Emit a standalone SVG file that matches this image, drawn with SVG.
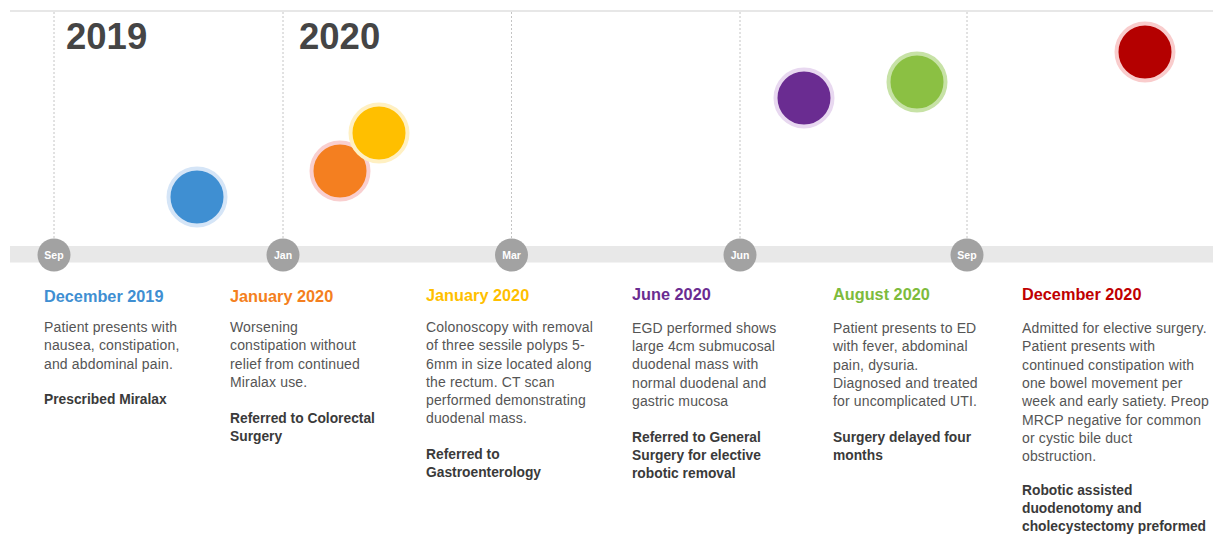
<svg xmlns="http://www.w3.org/2000/svg" width="1213" height="534" viewBox="0 0 1213 534">
  <style>
    .grid { stroke: #c4c4c4; stroke-width: 1; stroke-dasharray: 2 2; fill: none; }
    .year { font-family: "Liberation Sans", Arial, sans-serif; font-weight: bold; font-size: 36.5px; fill: #454545; }
    .tick { fill: #a2a2a2; }
    .tick-label { font-family: "Liberation Sans", Arial, sans-serif; font-weight: bold; font-size: 10.5px; fill: #ffffff; text-anchor: middle; }
    .head { font-family: "Liberation Sans", Arial, sans-serif; font-weight: bold; font-size: 16.3px; }
    .body { font-family: "Liberation Sans", Arial, sans-serif; font-size: 14px; letter-spacing: 0.15px; fill: #555555; }
    .note { font-family: "Liberation Sans", Arial, sans-serif; font-weight: bold; font-size: 13.8px; fill: #3a3a3a; }
    .dot { stroke-width: 4; }
  </style>

  <rect x="0" y="0" width="1213" height="534" fill="#ffffff"/>

  <!-- frame: top rule, month grid lines and the timeline band -->
  <g id="axis">
    <line x1="10" y1="11" x2="1213" y2="11" stroke="#cfcfcf" stroke-width="1.2"/>
    <line class="grid" x1="54" y1="12" x2="54" y2="246"/>
    <line class="grid" x1="283" y1="12" x2="283" y2="246"/>
    <line class="grid" x1="511.5" y1="12" x2="511.5" y2="246"/>
    <line class="grid" x1="740" y1="12" x2="740" y2="246"/>
    <line class="grid" x1="967" y1="12" x2="967" y2="246"/>
    <rect x="10" y="246" width="1203" height="16.5" fill="#e8e8e8"/>
  </g>

  <g id="years">
    <text class="year" x="66" y="49">2019</text>
    <text class="year" x="299" y="49">2020</text>
  </g>

  <!-- month markers on the band -->
  <g id="ticks">
    <g id="tick-sep-2019"><circle class="tick" cx="54" cy="255" r="16.5"/><text class="tick-label" x="54" y="258.5">Sep</text></g>
    <g id="tick-jan"><circle class="tick" cx="283" cy="255" r="16.5"/><text class="tick-label" x="283" y="258.5">Jan</text></g>
    <g id="tick-mar"><circle class="tick" cx="511.5" cy="255" r="16.5"/><text class="tick-label" x="511.5" y="258.5">Mar</text></g>
    <g id="tick-jun"><circle class="tick" cx="740" cy="255" r="16.5"/><text class="tick-label" x="740" y="258.5">Jun</text></g>
    <g id="tick-sep-2020"><circle class="tick" cx="967" cy="255" r="16.5"/><text class="tick-label" x="967" y="258.5">Sep</text></g>
  </g>

  <!-- event dots -->
  <g id="dots">
    <circle id="dot-dec-2019" class="dot" cx="197" cy="197" r="28.5" fill="#3f8fd2" stroke="#d5e5f7"/>
    <circle id="dot-jan-2020a" class="dot" cx="340" cy="171" r="28.5" fill="#f47f20" stroke="#f9cfcf"/>
    <circle id="dot-jan-2020b" class="dot" cx="379" cy="133" r="28.5" fill="#ffbf00" stroke="#fff0c2"/>
    <circle id="dot-jun-2020" class="dot" cx="804" cy="98" r="28.5" fill="#6a2c91" stroke="#e8d8f0"/>
    <circle id="dot-aug-2020" class="dot" cx="917" cy="82" r="28.5" fill="#8bc043" stroke="#c7e2a6"/>
    <circle id="dot-dec-2020" class="dot" cx="1145" cy="52" r="28.5" fill="#b40000" stroke="#f9cccc"/>
  </g>

  <!-- event descriptions -->
  <g id="event-dec-2019">
    <text class="head" x="44" y="302" fill="#3f8fd2">December 2019</text>
    <text class="body" x="44" y="332">Patient presents with</text>
    <text class="body" x="44" y="350">nausea, constipation,</text>
    <text class="body" x="44" y="368.5">and abdominal pain.</text>
    <text class="note" x="44" y="404">Prescribed Miralax</text>
  </g>

  <g id="event-jan-2020a">
    <text class="head" x="230" y="301.5" fill="#f47f20">January 2020</text>
    <text class="body" x="230" y="332">Worsening</text>
    <text class="body" x="230" y="350">constipation without</text>
    <text class="body" x="230" y="368.5">relief from continued</text>
    <text class="body" x="230" y="387">Miralax use.</text>
    <text class="note" x="230" y="423">Referred to Colorectal</text>
    <text class="note" x="230" y="441">Surgery</text>
  </g>

  <g id="event-jan-2020b">
    <text class="head" x="426" y="300.5" fill="#ffbf00">January 2020</text>
    <text class="body" x="426" y="332">Colonoscopy with removal</text>
    <text class="body" x="426" y="350">of three sessile polyps 5-</text>
    <text class="body" x="426" y="368.5">6mm in size located along</text>
    <text class="body" x="426" y="387">the rectum. CT scan</text>
    <text class="body" x="426" y="405">performed demonstrating</text>
    <text class="body" x="426" y="423">duodenal mass.</text>
    <text class="note" x="426" y="459">Referred to</text>
    <text class="note" x="426" y="477">Gastroenterology</text>
  </g>

  <g id="event-jun-2020">
    <text class="head" x="632" y="299.5" fill="#6a2c91">June 2020</text>
    <text class="body" x="632" y="333">EGD performed shows</text>
    <text class="body" x="632" y="351">large 4cm submucosal</text>
    <text class="body" x="632" y="369">duodenal mass with</text>
    <text class="body" x="632" y="387.5">normal duodenal and</text>
    <text class="body" x="632" y="405.5">gastric mucosa</text>
    <text class="note" x="632" y="442">Referred to General</text>
    <text class="note" x="632" y="460">Surgery for elective</text>
    <text class="note" x="632" y="478">robotic removal</text>
  </g>

  <g id="event-aug-2020">
    <text class="head" x="833" y="299.5" fill="#7dbb3c">August 2020</text>
    <text class="body" x="833" y="333">Patient presents to ED</text>
    <text class="body" x="833" y="351">with fever, abdominal</text>
    <text class="body" x="833" y="369.5">pain, dysuria.</text>
    <text class="body" x="833" y="388">Diagnosed and treated</text>
    <text class="body" x="833" y="406">for uncomplicated UTI.</text>
    <text class="note" x="833" y="442">Surgery delayed four</text>
    <text class="note" x="833" y="460">months</text>
  </g>

  <g id="event-dec-2020">
    <text class="head" x="1022" y="299.5" fill="#c00000">December 2020</text>
    <text class="body" x="1022" y="333">Admitted for elective surgery.</text>
    <text class="body" x="1022" y="351">Patient presents with</text>
    <text class="body" x="1022" y="369.5">continued constipation with</text>
    <text class="body" x="1022" y="388">one bowel movement per</text>
    <text class="body" x="1022" y="406">week and early satiety. Preop</text>
    <text class="body" x="1022" y="424.5">MRCP negative for common</text>
    <text class="body" x="1022" y="443">or cystic bile duct</text>
    <text class="body" x="1022" y="461">obstruction.</text>
    <text class="note" x="1022" y="495">Robotic assisted</text>
    <text class="note" x="1022" y="513">duodenotomy and</text>
    <text class="note" x="1022" y="531">cholecystectomy preformed</text>
  </g>
</svg>
